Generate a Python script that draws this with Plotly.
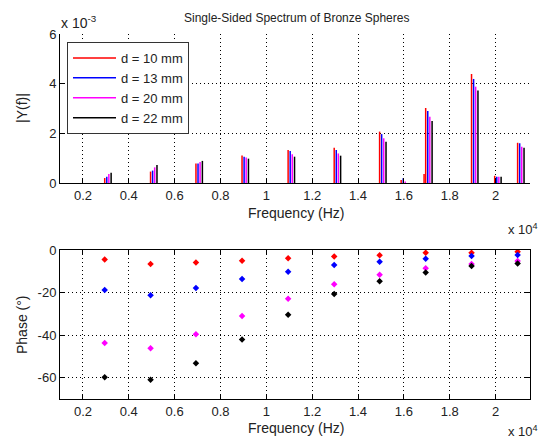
import plotly.graph_objects as go

# ---------------- data ----------------
labels = ["d = 10 mm", "d = 13 mm", "d = 20 mm", "d = 22 mm"]
colors = ["#ff0000", "#0000ff", "#ff00ff", "#000000"]

# resonance frequencies (Hz)
freq = [2950, 4950, 6930, 8940, 10950, 12960, 14940, 16950, 18950, 20960]
# per-series frequency offset of the spectral peaks (Hz)
offsets = [0, 90, 180, 280]

# |Y(f)| peak amplitudes (x 1e-3)
amp10 = [0.20, 0.46, 0.79, 1.11, 1.33, 1.42, 2.07, 3.02, 4.39, 1.62]
amp13 = [0.25, 0.50, 0.79, 1.06, 1.29, 1.33, 1.97, 2.90, 4.19, 1.60]
amp20 = [0.36, 0.63, 0.85, 1.03, 1.16, 1.19, 1.80, 2.67, 3.88, 1.46]
amp22 = [0.41, 0.72, 0.89, 0.98, 1.06, 1.10, 1.66, 2.50, 3.72, 1.42]

# minor spectral components (x 1e-3)
minor_freq = [15880, 16880, 19960]
minor10 = [0.12, 0.36, 0.29]
minor13 = [0.19, 0.00, 0.25]
minor20 = [0.06, 0.00, 0.25]
minor22 = [0.00, 0.00, 0.25]

# phase (degrees)
ph10 = [-4.5, -6.6, -5.9, -5.0, -3.9, -3.0, -2.5, -1.3, -1.3, -0.8]
ph13 = [-18.8, -21.3, -17.9, -13.6, -10.2, -7.0, -5.5, -4.1, -2.8, -2.3]
ph20 = [-43.7, -46.2, -39.6, -31.0, -22.9, -16.1, -11.6, -8.6, -6.6, -5.2]
ph22 = [-59.8, -60.9, -53.2, -42.1, -30.4, -20.7, -14.7, -10.6, -7.5, -6.3]

xtick_vals = [2000, 4000, 6000, 8000, 10000, 12000, 14000, 16000, 18000, 20000]
xtick_text = ["0.2", "0.4", "0.6", "0.8", "1", "1.2", "1.4", "1.6", "1.8", "2"]
ytop_vals = [0, 0.002, 0.004, 0.006]
ytop_text = ["0", "2", "4", "6"]
ybot_vals = [0, -20, -40, -60]
ybot_text = ["0", "-20", "-40", "-60"]

amps = [amp10, amp13, amp20, amp22]
minors = [minor10, minor13, minor20, minor22]
phases = [ph10, ph13, ph20, ph22]

FONT = "Liberation Sans, Arial, Helvetica, sans-serif"
TXT = "#222222"

fig = go.Figure()

for i in range(4):
    xs, ys = [], []
    for f, a in zip(freq + minor_freq, amps[i] + minors[i]):
        if a <= 0:
            continue
        ff = f + offsets[i]
        xs += [ff, ff, None]
        ys += [0, a * 1e-3, None]
    fig.add_trace(go.Scatter(x=xs, y=ys, mode="lines", name=labels[i],
                             line=dict(color=colors[i], width=1.5),
                             xaxis="x", yaxis="y", showlegend=True))

for i in range(4):
    fig.add_trace(go.Scatter(x=freq, y=phases[i], mode="markers",
                             marker=dict(symbol="diamond", size=5, color=colors[i]),
                             xaxis="x2", yaxis="y2", showlegend=False))

L, R, T, B = 60, 12, 34, 41
H = 440
ph = H - T - B
def py(y):
    return (H - B - y) / ph
def px(x):
    return (x - L) / (542 - L - R)

grid = dict(showgrid=True, gridcolor="#000000", griddash="1px,3px", gridwidth=1,
            zeroline=False, ticks="inside", ticklen=5, tickcolor="#000000",
            showline=True, linecolor="#000000", linewidth=1,
            tickfont=dict(family=FONT, size=13, color=TXT))

fig.update_layout(
    width=542, height=440,
    margin=dict(l=L, r=R, t=T, b=B),
    paper_bgcolor="white", plot_bgcolor="white",
    font=dict(family=FONT, size=12, color=TXT),
    xaxis=dict(domain=[0, 1], anchor="y", range=[1000, 21500],
               tickvals=xtick_vals, ticktext=xtick_text, mirror=False, **grid),
    yaxis=dict(domain=[py(183), 1], anchor="x", range=[0, 0.006],
               tickvals=ytop_vals, ticktext=ytop_text, mirror=False, **grid),
    xaxis2=dict(domain=[0, 1], anchor="y2", range=[1000, 21500],
                tickvals=xtick_vals, ticktext=xtick_text, mirror="ticks", **grid),
    yaxis2=dict(domain=[0, py(250)], anchor="x2", range=[-70, 0],
                tickvals=ybot_vals, ticktext=ybot_text, mirror="ticks", **grid),
    legend=dict(x=px(67), y=py(42), xanchor="left", yanchor="top",
                bgcolor="white", bordercolor="#333333", borderwidth=1,
                font=dict(family=FONT, size=13, color=TXT), itemwidth=43,
                tracegroupgap=0),
    showlegend=True,
)

ann = [
    dict(text="Single-Sided Spectrum of Bronze Spheres", x=px(296), y=py(18), size=12),
    dict(text="|Y(f)|", x=px(22), y=py(108), textangle=-90, size=14),
    dict(text="Phase (°)", x=px(22), y=py(325), textangle=-90, size=14),
    dict(text="Frequency (Hz)", x=px(296), y=py(213), size=14),
    dict(text="Frequency (Hz)", x=px(296), y=py(428), size=14),
]
for a in ann:
    size = a.pop("size")
    fig.add_annotation(xref="paper", yref="paper", showarrow=False,
                       xanchor="center", yanchor="middle",
                       font=dict(family=FONT, size=size, color=TXT), **a)

fig.add_annotation(text="x 10<sup>-3</sup>", xref="paper", yref="paper",
                   x=px(59), y=py(22), xanchor="left", yanchor="middle",
                   showarrow=False, font=dict(family=FONT, size=14, color=TXT))
for yy in (229, 431):
    fig.add_annotation(text="x 10<sup>4</sup>", xref="paper", yref="paper",
                       x=px(540), y=py(yy), xanchor="right", yanchor="middle",
                       showarrow=False, font=dict(family=FONT, size=13, color=TXT))

fig.write_html("out.html")
